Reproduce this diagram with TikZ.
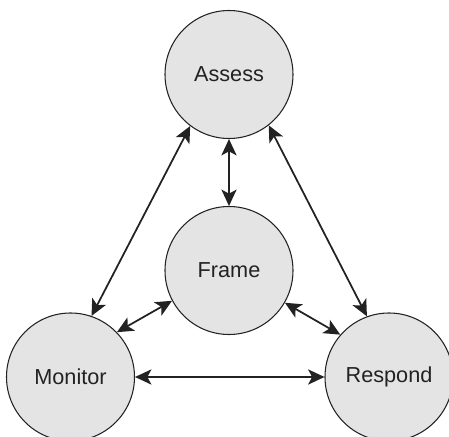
\documentclass[tikz,border=0pt]{standalone}
\usepackage{fontspec}
\setmainfont{Liberation Sans}
\usepackage{tikz}
\usetikzlibrary{arrows.meta, positioning, calc}
\definecolor{fase}{HTML}{E4E4E4}
\definecolor{bordo}{HTML}{222222}
\tikzset{
  stato/.style={
    circle, draw=bordo, fill=fase,
    line width=0.9pt,
    minimum size=3.84cm,
    inner sep=0pt,
    text=bordo,
    font=\fontsize{18.5}{20}\selectfont
  },
  % Stile per le frecce bidirezionali
  scambio/.style={{Stealth[length=14pt,width=13pt,inset=3.5pt]}-{Stealth[length=14pt,width=13pt,inset=3.5pt]}, line width=1.5pt, draw=bordo}
}

\begin{document}
\begin{tikzpicture}

\useasboundingbox (0,0) rectangle (13.47,-13.11);

% Cerchi del ciclo
\node[stato] (assess) at (6.87,-2.235) {Assess};
\node[stato] (frame) at (6.87,-8.115) {Frame};
\node[stato] (monitor) at (2.115,-11.31) {Monitor};
\node[stato] (respond) at (11.67,-11.31) {Respond};

% Relazioni
\draw[scambio] (assess.233) -- (monitor.71);
\draw[scambio] (assess.308) -- (respond.110);
\draw[scambio] (assess) -- (frame);
\draw[scambio] (frame.208) -- (monitor.44);
\draw[scambio] (frame.330) -- (respond.139);
\draw[scambio] (monitor) -- (respond);

\end{tikzpicture}
\end{document}
